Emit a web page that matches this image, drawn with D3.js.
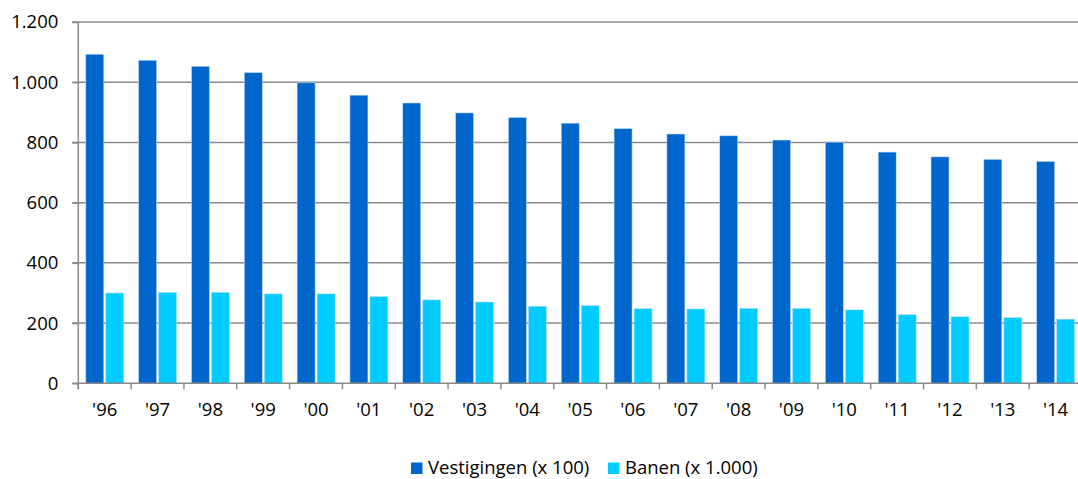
<!DOCTYPE html>
<html>
<head>
<meta charset="utf-8">
<script src="https://cdn.jsdelivr.net/npm/d3@7"></script>
<style>
  body { margin: 0; background: #fff; }
  svg text { font-family: "Open Sans", sans-serif; fill: #000; }
</style>
</head>
<body>
<script>
// data
const years = ["'96", "'97", "'98", "'99", "'00", "'01", "'02", "'03", "'04", "'05",
               "'06", "'07", "'08", "'09", "'10", "'11", "'12", "'13", "'14"]
const vestigingen = [1093, 1073, 1053, 1032, 998, 957, 931, 898, 883, 864,
                     846, 828, 822, 808, 801, 768, 752, 744, 737]
const banen = [300, 302, 302, 297, 297, 288, 277, 270, 256, 258,
               248, 247, 249, 249, 244, 228, 221, 218, 213]
const seriesNames = ["Vestigingen (x 100)", "Banen (x 1.000)"]
const seriesColors = ["#0066cc", "#00ccff"]
const yTicks = [0, 200, 400, 600, 800, 1000, 1200]

const W = 1078, H = 479
const plotLeft = 78.3, plotRight = 1082, plotTop = 22, plotBottom = 383.3
const fontSize = '18.5px'

const rows = years.map((y, i) => ({year: y, values: [vestigingen[i], banen[i]]}))

const svg = d3.select('body').append('svg')
    .attr('width', W)
    .attr('height', H)

const x0 = d3.scaleBand()
    .domain(years)
    .range([plotLeft, plotRight])
    .paddingInner(0)
    .paddingOuter(0)

const x1 = d3.scaleBand()
    .domain([0, 1])
    .range([7.5, 45.5])
    .paddingInner(0.1)

const yScale = d3.scaleLinear()
    .domain([0, 1200])
    .range([plotBottom, plotTop])

const fmt = d3.formatLocale({decimal: ",", thousands: ".", grouping: [3], currency: ["", ""]}).format(",")

// gridlines
svg.append('g')
    .selectAll('line')
    .data(yTicks.filter(d => d > 0))
    .enter()
    .append('line')
        .attr('x1', plotLeft - 6)
        .attr('x2', W)
        .attr('y1', d => yScale(d))
        .attr('y2', d => yScale(d))
        .attr('stroke', '#8a8a8a')
        .attr('stroke-width', 1.5)

// bars
const groups = svg.append('g').selectAll('g')
    .data(rows)
    .enter()
    .append('g')
        .attr('transform', d => 'translate(' + x0(d.year) + ',0)')

groups.selectAll('rect')
    .data(d => d.values.map((v, k) => ({k: k, v: v})))
    .enter()
    .append('rect')
        .attr('x', d => x1(d.k))
        .attr('width', x1.bandwidth())
        .attr('y', d => yScale(d.v))
        .attr('height', d => yScale(0) - yScale(d.v))
        .attr('fill', d => seriesColors[d.k])
        .attr('stroke', '#bcdcf5')
        .attr('stroke-width', 0.6)

// y axis
const yAxis = svg.append('g')
    .attr('transform', 'translate(' + plotLeft + ',0)')
    .call(d3.axisLeft(yScale).tickValues(yTicks).tickSize(6).tickPadding(14).tickFormat(fmt))
yAxis.select('.domain').remove()
yAxis.selectAll('.tick line').attr('stroke', '#8a8a8a').attr('stroke-width', 1.5)
yAxis.selectAll('.tick text').attr('font-size', fontSize).attr('font-family', '"Open Sans", sans-serif')
yAxis.append('line')
    .attr('x1', 0).attr('x2', 0)
    .attr('y1', plotTop).attr('y2', plotBottom + 6)
    .attr('stroke', '#8a8a8a')
    .attr('stroke-width', 1.5)

// x axis
const xAxis = svg.append('g')
    .attr('transform', 'translate(0,' + plotBottom + ')')
    .call(d3.axisBottom(x0).tickSize(0).tickPadding(20))
xAxis.select('.domain').remove()
xAxis.selectAll('.tick text').attr('font-size', fontSize).attr('font-family', '"Open Sans", sans-serif')
xAxis.append('line')
    .attr('x1', plotLeft - 6).attr('x2', W)
    .attr('y1', 0).attr('y2', 0)
    .attr('stroke', '#8a8a8a')
    .attr('stroke-width', 1.5)
xAxis.selectAll('.sep')
    .data(years)
    .enter()
    .append('line')
        .attr('x1', d => x0(d)).attr('x2', d => x0(d))
        .attr('y1', 0).attr('y2', 6)
        .attr('stroke', '#8a8a8a')
        .attr('stroke-width', 1.5)

// legend (nudged up a little so descenders stay inside the page)
const legendX = [411, 608]
const legend = svg.append('g')
seriesNames.forEach((name, k) => {
    legend.append('rect')
        .attr('x', legendX[k])
        .attr('y', 462.5)
        .attr('width', 11.5)
        .attr('height', 11.5)
        .attr('fill', seriesColors[k])
    legend.append('text')
        .attr('x', legendX[k] + 17)
        .attr('y', 474)
        .attr('font-size', fontSize)
        .text(name)
})
</script>
</body>
</html>
